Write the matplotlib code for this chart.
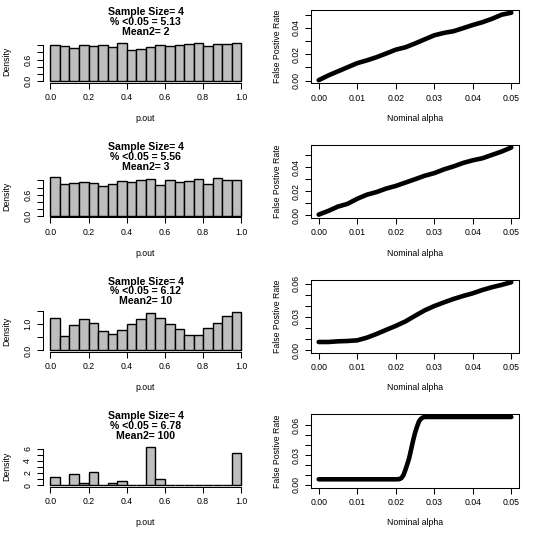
import numpy as np
import matplotlib
matplotlib.use("Agg")
import matplotlib.pyplot as plt

plt.rcParams['font.family'] = ['Liberation Sans', 'DejaVu Sans']

# Histogram panels (density per 0.05 bin of p.out)
bin_edges = np.linspace(0, 1, 21)
dens_m2 = [1.02, 0.97, 0.94, 1.01, 0.99, 1.01, 0.96, 1.07, 0.87, 0.90,
           0.95, 1.01, 0.99, 1.01, 1.05, 1.08, 0.99, 1.04, 1.04, 1.08]
dens_m3 = [1.09, 0.89, 0.94, 0.97, 0.94, 0.83, 0.91, 0.99, 0.97, 1.01,
           1.04, 0.87, 1.01, 0.95, 0.98, 1.04, 0.89, 1.07, 1.00, 1.00]
dens_m10 = [1.21, 0.53, 0.96, 1.17, 1.04, 0.73, 0.62, 0.77, 1.01, 1.19,
            1.42, 1.23, 1.00, 0.81, 0.58, 0.58, 0.83, 1.05, 1.29, 1.45]
dens_m100 = [1.28, 0.00, 1.78, 0.39, 2.22, 0.00, 0.33, 0.72, 0.00, 0.00,
             6.28, 0.94, 0.00, 0.00, 0.00, 0.00, 0.00, 0.00, 0.00, 5.28]

titles = ["Sample Size= 4\n% <0.05 = 5.13\nMean2= 2",
          "Sample Size= 4\n% <0.05 = 5.56\nMean2= 3",
          "Sample Size= 4\n% <0.05 = 6.12\nMean2= 10",
          "Sample Size= 4\n% <0.05 = 6.78\nMean2= 100"]

hist_yticks = [[0, 0.2, 0.4, 0.6, 0.8, 1.0],
               [0, 0.2, 0.4, 0.6, 0.8, 1.0],
               [0, 0.5, 1.0, 1.5],
               [0, 1, 2, 3, 4, 5, 6]]
hist_ylabels = [["0.0", "", "", "0.6", "", ""],
                ["0.0", "", "", "0.6", "", ""],
                ["0.0", "", "1.0", ""],
                ["0", "", "2", "", "4", "", "6"]]

# False positive rate vs nominal alpha
alpha = [0.0, 0.0025, 0.005, 0.0075, 0.01, 0.0125, 0.015, 0.0175, 0.02, 0.0225,
         0.025, 0.0275, 0.03, 0.0325, 0.035, 0.0375, 0.04, 0.0425, 0.045, 0.0475, 0.05]
fpr_m2 = [0.0003, 0.0039, 0.0070, 0.0101, 0.0132, 0.0153, 0.0177, 0.0205, 0.0234, 0.0252,
          0.0281, 0.0312, 0.0343, 0.0361, 0.0374, 0.0397, 0.0421, 0.0442, 0.0468, 0.0499, 0.0514]
fpr_m3 = [0.0006, 0.0037, 0.0073, 0.0096, 0.0138, 0.0172, 0.0194, 0.0223, 0.0245, 0.0273,
          0.0301, 0.0330, 0.0352, 0.0383, 0.0408, 0.0437, 0.0459, 0.0476, 0.0504, 0.0532, 0.0566]
fpr_m10 = [0.0073, 0.0073, 0.0079, 0.0082, 0.0088, 0.0112, 0.0145, 0.0182, 0.0218, 0.0258,
           0.0309, 0.0358, 0.0397, 0.0430, 0.0461, 0.0488, 0.0512, 0.0542, 0.0567, 0.0588, 0.0612]
alpha_m100 = [0.0, 0.005, 0.01, 0.015, 0.02, 0.021, 0.0215, 0.022, 0.0225, 0.023, 0.0235,
              0.024, 0.0245, 0.025, 0.0255, 0.026, 0.0265, 0.027, 0.0275, 0.03, 0.035,
              0.04, 0.045, 0.05]
fpr_m100 = [0.0056, 0.0056, 0.0056, 0.0056, 0.0056, 0.0058, 0.0070, 0.0098, 0.0150, 0.0209,
            0.0272, 0.0359, 0.0446, 0.0523, 0.0585, 0.0638, 0.0666, 0.0680, 0.0686, 0.0686,
            0.0686, 0.0686, 0.0686, 0.0686]

fpr_yticks = [[0, 0.01, 0.02, 0.03, 0.04, 0.05],
              [0, 0.01, 0.02, 0.03, 0.04, 0.05],
              [0, 0.01, 0.02, 0.03, 0.04, 0.05, 0.06],
              [0, 0.01, 0.02, 0.03, 0.04, 0.05, 0.06]]
fpr_ylabels = [["0.00", "", "0.02", "", "0.04", ""],
               ["0.00", "", "0.02", "", "0.04", ""],
               ["0.00", "", "", "0.03", "", "", "0.06"],
               ["0.00", "", "", "0.03", "", "", "0.06"]]
alpha_ticks = [0, 0.01, 0.02, 0.03, 0.04, 0.05]
alpha_labels = ["0.00", "0.01", "0.02", "0.03", "0.04", "0.05"]

hists = [dens_m2, dens_m3, dens_m10, dens_m100]
curves = [(alpha, fpr_m2), (alpha, fpr_m3), (alpha, fpr_m10), (alpha_m100, fpr_m100)]

W, H = 540, 539
ROW = 134.75
FS = 6.3

fig = plt.figure(figsize=(W / 100, H / 100), dpi=100)


def px_axes(x0, x1, y0, y1, row):
    return fig.add_axes([x0 / W, 1 - (row * ROW + y1) / H, (x1 - x0) / W, (y1 - y0) / H])


def px_text(x, y, row, s, **kw):
    fig.text(x / W, 1 - (row * ROW + y) / H, s, ha="center", va="center", **kw)


def style_ticks(ax):
    ax.tick_params(direction="out", length=4, width=0.75, pad=3.5, labelsize=FS,
                   colors="black")
    ax.tick_params(axis="y", labelrotation=90)
    for lab in ax.get_yticklabels():
        lab.set_va("center")


for row in range(4):
    # left: histogram
    ax = px_axes(42.7, 249, 41, 82.5, row)
    dens = hists[row]
    ax.bar(bin_edges[:-1], dens, width=0.05, align="edge", color="#bebebe",
           edgecolor="black", linewidth=1.0)
    m = max(dens)
    ax.set_xlim(-0.04, 1.04)
    ax.set_ylim(-0.04 * m, 1.04 * m)
    ax.set_xticks([0, 0.2, 0.4, 0.6, 0.8, 1.0])
    ax.set_xticklabels(["0.0", "0.2", "0.4", "0.6", "0.8", "1.0"])
    ax.set_yticks(hist_yticks[row])
    ax.set_yticklabels(hist_ylabels[row])
    for s in ["top", "right"]:
        ax.spines[s].set_visible(False)
    ax.spines["left"].set_bounds(0, hist_yticks[row][-1])
    ax.spines["bottom"].set_bounds(0, 1)
    for s in ["left", "bottom"]:
        ax.spines[s].set_linewidth(0.75)
    style_ticks(ax)
    px_text(145.5, 22, row, titles[row], fontsize=7.6, fontweight="bold",
            linespacing=0.98)
    px_text(145.5, 118.3, row, "p.out", fontsize=FS)
    px_text(7, 61.8, row, "Density", fontsize=FS, rotation=90)

    # right: false positive rate (dense run of points -> thick band)
    ax = px_axes(311, 519, 10, 83.3, row)
    xs, ys = curves[row]
    ax.plot(xs, ys, color="black", lw=3.3, solid_capstyle="round",
            solid_joinstyle="round")
    m = max(ys)
    ax.set_xlim(-0.002, 0.052)
    ax.set_ylim(-0.04 * m, 1.04 * m)
    ax.set_xticks(alpha_ticks)
    ax.set_xticklabels(alpha_labels)
    ax.set_yticks(fpr_yticks[row])
    ax.set_yticklabels(fpr_ylabels[row])
    for s in ax.spines.values():
        s.set_linewidth(0.75)
    style_ticks(ax)
    px_text(415, 118.3, row, "Nominal alpha", fontsize=FS)
    px_text(277, 46.7, row, "False Postive Rate", fontsize=FS, rotation=90)

fig.savefig("out.png", dpi=100)
